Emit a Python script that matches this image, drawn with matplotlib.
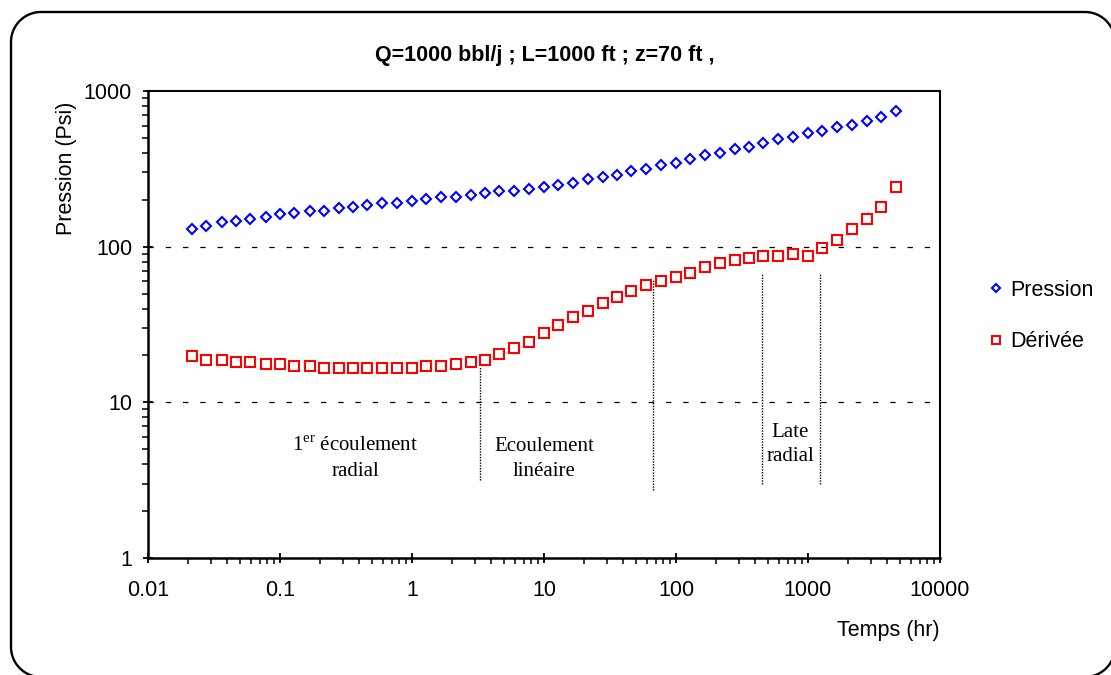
import matplotlib
matplotlib.use("Agg")
import numpy as np
import matplotlib.pyplot as plt
from matplotlib.lines import Line2D
from matplotlib.ticker import LogLocator, FixedLocator, NullFormatter

# ---------------- data ----------------
temps = [0.0215, 0.0275, 0.0362, 0.0461, 0.0589, 0.078, 0.1, 0.127, 0.168,
         0.215, 0.278, 0.36, 0.46, 0.59, 0.77, 1.0, 1.27, 1.66,
         2.15, 2.78, 3.6, 4.6, 5.9, 7.7, 10.0, 12.7, 16.6,
         21.5, 27.8, 36, 46, 59, 77, 100, 127, 166,
         215, 278, 360, 460, 590, 770, 1000, 1270, 1660,
         2150, 2780, 3600, 4670]

pression = [130, 135, 143, 146, 151, 156, 161, 165, 170,
            170, 176, 181, 186, 191, 191, 197, 203, 210,
            210, 215, 221, 228, 228, 236, 242, 250, 256,
            272, 281, 288, 306, 316, 336, 344, 365, 387,
            398, 424, 435, 464, 490, 504, 534, 550, 584,
            601, 641, 676, 741]

derivee = [19.9, 18.7, 18.7, 18.2, 18.2, 17.6, 17.6, 17.1, 17.1,
           16.6, 16.6, 16.6, 16.6, 16.6, 16.6, 16.6, 17.1, 17.1,
           17.6, 18.1, 18.7, 20.4, 22.2, 24.4, 27.7, 31.2, 35.2,
           38.5, 43.5, 47.6, 51.8, 56.6, 60.1, 64.1, 67.8, 74.5,
           78.7, 81.5, 84.0, 86.5, 86.5, 89.1, 86.5, 97.5, 110,
           130, 151, 180, 242]

series_labels = ["Pression", "Dérivée"]
title = "Q=1000 bbl/j ; L=1000 ft ; z=70 ft ,"
xlabel = "Temps (hr)"
ylabel = "Pression (Psi)"
xticks = [0.01, 0.1, 1, 10, 100, 1000, 10000]
xticklabels = ["0.01", "0.1", "1", "10", "100", "1000", "10000"]
yticks = [1, 10, 100, 1000]
yticklabels = ["1", "10", "100", "1000"]
grid_levels = [10, 100]

# flow-regime boundary lines (x, y_bottom, y_top)
bound_x = [3.27, 67, 449, 1227]
bound_ylo = [3.16, 2.73, 3.01, 3.01]
bound_yhi = [16.9, 60.7, 67, 67]
region_labels = ["1$^{\\mathrm{er}}$ écoulement\nradial", "Ecoulement\nlinéaire", "Late\nradial"]

# ---------------- style ----------------
plt.rcParams['font.family'] = ['Liberation Sans', 'DejaVu Sans']
plt.rcParams['mathtext.fontset'] = 'custom'
plt.rcParams['mathtext.rm'] = 'Liberation Serif'

W, H = 1111, 675
fig = plt.figure(figsize=(W / 100, H / 100), dpi=100)

# rounded outer frame built from straight segments (pixel geometry, y up)
fl, fr, fb, ft, rad = 11.0, 1115.0, -2.0, 663.0, 30.0
corners = [(fr - rad, ft - rad, 0, 90), (fl + rad, ft - rad, 90, 180),
           (fl + rad, fb + rad, 180, 270), (fr - rad, fb + rad, 270, 360)]
fx, fy = [], []
for cx, cy, a0, a1 in corners:
    ang = np.radians(np.linspace(a0, a1, 24))
    fx.extend(cx + rad * np.cos(ang))
    fy.extend(cy + rad * np.sin(ang))
fx.append(fx[0])
fy.append(fy[0])
frame = Line2D(np.array(fx) / W, np.array(fy) / H, transform=fig.transFigure,
               color='black', linewidth=1.7, solid_joinstyle='round')
fig.add_artist(frame)

ax = fig.add_axes([148 / W, (H - 558) / H, 792 / W, 467 / H])
ax.set_xscale('log')
ax.set_yscale('log')
ax.set_xlim(0.01, 10000)
ax.set_ylim(1, 1000)

for g in grid_levels:
    ax.axhline(g, color='black', linewidth=0.9, linestyle=(0, (4.3, 9.5)), zorder=1)

for bx, lo, hi in zip(bound_x, bound_ylo, bound_yhi):
    ax.plot([bx, bx], [lo, hi], color='black', linewidth=1.0,
            linestyle=(0, (1, 1)), zorder=1)

ax.plot(temps, pression, linestyle='none', marker='D', markersize=5.6,
        markerfacecolor='none', markeredgecolor='#0000FF', markeredgewidth=1.5,
        label=series_labels[0], zorder=3)
ax.plot(temps, derivee, linestyle='none', marker='s', markersize=7.3,
        markerfacecolor='none', markeredgecolor='#FF0000', markeredgewidth=1.5,
        label=series_labels[1], zorder=3)

# text annotations (Times-like)
serif = ['Liberation Serif', 'DejaVu Serif']
ax.text((355 - 148) / 792, (558 - 459) / 467, region_labels[0], transform=ax.transAxes,
        ha='center', va='center', fontsize=15, family=serif, linespacing=1.4)
ax.text((544 - 148) / 792, (558 - 459) / 467, region_labels[1], transform=ax.transAxes,
        ha='center', va='center', fontsize=15, family=serif, linespacing=1.4)
ax.text((790 - 148) / 792, (558 - 444.5) / 467, region_labels[2], transform=ax.transAxes,
        ha='center', va='center', fontsize=15, family=serif, linespacing=1.4)

# ticks
ax.xaxis.set_major_locator(FixedLocator(xticks))
ax.set_xticklabels(xticklabels)
ax.xaxis.set_minor_locator(LogLocator(base=10, subs=range(2, 10), numticks=20))
ax.xaxis.set_minor_formatter(NullFormatter())
ax.yaxis.set_major_locator(FixedLocator(yticks))
ax.set_yticklabels(yticklabels)
ax.yaxis.set_minor_locator(LogLocator(base=10, subs=range(2, 10), numticks=20))
ax.yaxis.set_minor_formatter(NullFormatter())

ax.tick_params(axis='both', which='major', direction='inout', length=7, width=1.3,
               labelsize=15.5, colors='black')
ax.tick_params(axis='x', which='minor', direction='out', length=4, width=1.1)
ax.tick_params(axis='y', which='minor', direction='out', length=4, width=1.1)
ax.tick_params(axis='x', which='major', pad=12)
ax.tick_params(axis='y', which='major', pad=8)

for side in ['left', 'bottom']:
    ax.spines[side].set_linewidth(1.8)
for side in ['top', 'right']:
    ax.spines[side].set_linewidth(1.5)

ax.set_xlabel(xlabel, fontsize=15.5, loc='right', labelpad=14)
ax.set_ylabel(ylabel, fontsize=15.5)
ax.yaxis.set_label_coords((77 - 148) / 792, (558 - 168) / 467)

fig.text(545 / W, 1 - 55 / H, title, ha='center', va='center',
         fontsize=15.5, fontweight='bold')

fig.legend(loc='center left', bbox_to_anchor=(981 / W, 1 - 316 / H), frameon=False,
           fontsize=15.5, labelspacing=1.4, handlelength=0.6, handletextpad=0.35,
           borderaxespad=0, markerscale=0.75)

fig.savefig('out.png', dpi=100)
